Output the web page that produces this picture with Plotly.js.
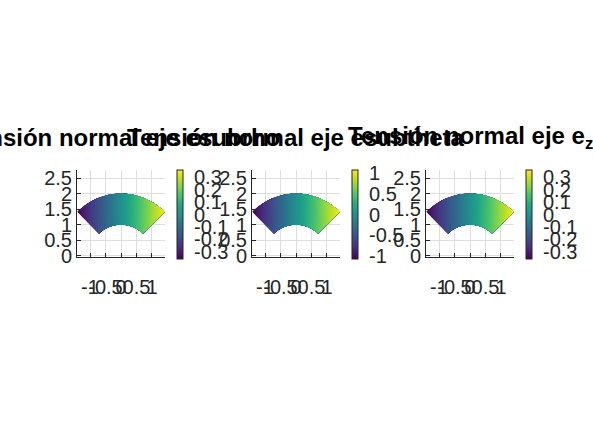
<!DOCTYPE html>
<html>
<head>
<meta charset="utf-8">
<script src="https://cdn.plot.ly/plotly-3.0.1.min.js"></script>
<style>
  html, body { margin: 0; padding: 0; background: #fff; }
  #chart { width: 593px; height: 444px; }
</style>
</head>
<body>
<div id="chart"></div>
<script>
// Annular sector mesh: radii (a axis) and angles in degrees (b axis)
const radios = [1, 1.5, 2];
const angulos = [45, 60, 75, 90, 105, 120, 135];

// Stress values sampled at each angle, one array per radius
const sigmaRhoInner = [0.18, 0.13, 0.07, 0, -0.07, -0.13, -0.18];
const sigmaRhoMid   = [0.27, 0.19, 0.10, 0, -0.10, -0.19, -0.27];
const sigmaRhoOuter = [0.36, 0.25, 0.13, 0, -0.13, -0.25, -0.36];

const sigmaThetaInner = [0.53, 0.38, 0.20, 0, -0.20, -0.38, -0.53];
const sigmaThetaMid   = [0.80, 0.57, 0.29, 0, -0.29, -0.57, -0.80];
const sigmaThetaOuter = [1.07, 0.76, 0.39, 0, -0.39, -0.76, -1.07];

const sigmaZInner = [0.18, 0.13, 0.07, 0, -0.07, -0.13, -0.18];
const sigmaZMid   = [0.27, 0.19, 0.10, 0, -0.10, -0.19, -0.27];
const sigmaZOuter = [0.36, 0.25, 0.13, 0, -0.13, -0.25, -0.36];

const titulos = [
  'Tensión normal eje esubrho',
  'Tensión normal eje esubtheta',
  'Tensión normal eje e<sub>z</sub>'
];

const yTicks = [0, 0.5, 1, 1.5, 2, 2.5];
const xTicks = [-1, -0.5, 0, 0.5, 1];
const cbTicks = [
  [-0.3, -0.2, -0.1, 0, 0.1, 0.2, 0.3],
  [-1, -0.5, 0, 0.5, 1],
  [-0.3, -0.2, -0.1, 0, 0.1, 0.2, 0.3]
];

// Cartesian node coordinates of the sector, rows follow the angle axis
const deg = Math.PI / 180;
const gx = angulos.map(t => radios.map(r => r * Math.cos(t * deg)));
const gy = angulos.map(t => radios.map(r => r * Math.sin(t * deg)));

const campos = [
  [sigmaRhoInner, sigmaRhoMid, sigmaRhoOuter],
  [sigmaThetaInner, sigmaThetaMid, sigmaThetaOuter],
  [sigmaZInner, sigmaZMid, sigmaZOuter]
];

const W = 593, H = 444;
const axLeft = [77, 252, 426];
const axWidth = 88;
const axTop = 170, axBottom = 257;
const cbLeft = [176.7, 351.7, 526];

const tickFont = { family: 'Liberation Sans, Arial, sans-serif', size: 20, color: '#262626' };

const hiddenCarpetAxis = {
  showgrid: false, showline: false, showticklabels: 'none',
  startline: false, endline: false, minorgridcount: 0,
  smoothing: 1, title: { text: '' }
};

const data = [];
const layout = {
  width: W, height: H,
  margin: { l: 0, r: 0, t: 0, b: 0 },
  paper_bgcolor: '#fff', plot_bgcolor: '#fff',
  showlegend: false,
  annotations: []
};

campos.forEach((f, k) => {
  const n = k + 1;
  const xa = n === 1 ? 'x' : 'x' + n;
  const ya = n === 1 ? 'y' : 'y' + n;
  const z = angulos.map((_, j) => [f[0][j], f[1][j], f[2][j]]);
  let zmax = 0;
  z.forEach(row => row.forEach(v => { zmax = Math.max(zmax, Math.abs(v)); }));

  data.push({
    type: 'carpet', carpet: 'c' + n, xaxis: xa, yaxis: ya,
    a: radios, b: angulos, x: gx, y: gy,
    aaxis: hiddenCarpetAxis, baxis: hiddenCarpetAxis
  });
  data.push({
    type: 'contourcarpet', carpet: 'c' + n, xaxis: xa, yaxis: ya,
    a: radios, b: angulos, z: z,
    colorscale: 'Viridis', zmin: -zmax, zmax: zmax,
    autocontour: false,
    contours: { start: -zmax, end: zmax, size: zmax / 40, coloring: 'fill', showlines: false },
    line: { width: 0 },
    colorbar: {
      x: cbLeft[k] / W, xanchor: 'left', xpad: 0,
      y: 1 - ((axTop + 259) / 2) / H, yanchor: 'middle', ypad: 0,
      thickness: 6, thicknessmode: 'pixels',
      len: 89, lenmode: 'pixels',
      outlinewidth: 1, outlinecolor: '#262626',
      tickvals: cbTicks[k], ticktext: cbTicks[k].map(String),
      ticks: 'outside', ticklen: 7, tickcolor: 'rgba(0,0,0,0)',
      tickfont: tickFont
    }
  });

  const xKey = n === 1 ? 'xaxis' : 'xaxis' + n;
  const yKey = n === 1 ? 'yaxis' : 'yaxis' + n;
  layout[xKey] = {
    domain: [axLeft[k] / W, (axLeft[k] + axWidth) / W],
    anchor: ya, range: [-1.42, 1.42],
    tickvals: xTicks, ticktext: xTicks.map(String), tickangle: 0,
    ticks: 'inside', ticklen: 4, tickcolor: '#262626',
    showline: true, linecolor: '#262626', linewidth: 1, mirror: false,
    showgrid: true, gridcolor: '#dedede', gridwidth: 1, zeroline: false,
    tickfont: tickFont, ticklabelstandoff: 12
  };
  layout[yKey] = {
    domain: [1 - axBottom / H, 1 - axTop / H],
    anchor: xa, range: [-0.04, 2.76],
    tickvals: yTicks, ticktext: yTicks.map(String),
    ticks: 'inside', ticklen: 4, tickcolor: '#262626',
    showline: true, linecolor: '#262626', linewidth: 1, mirror: false,
    showgrid: true, gridcolor: '#dedede', gridwidth: 1, zeroline: false,
    tickfont: tickFont
  };
  layout.annotations.push({
    xref: 'paper', yref: 'paper',
    x: (axLeft[k] + axWidth / 2) / W, y: 1 - 138 / H,
    xanchor: 'center', yanchor: 'middle', showarrow: false,
    text: titulos[k],
    font: { family: 'Liberation Sans, Arial, sans-serif', size: 24, color: '#000', weight: 'bold' }
  });
});

Plotly.newPlot('chart', data, layout, { displayModeBar: false, staticPlot: true });
</script>
</body>
</html>
